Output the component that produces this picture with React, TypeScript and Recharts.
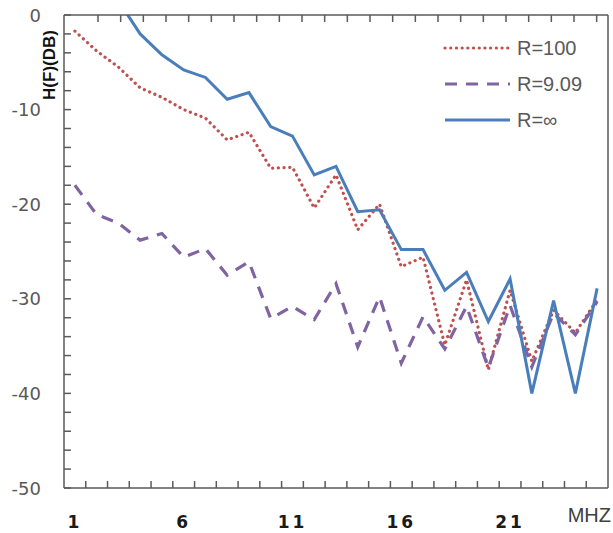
import React from "react";
import { LineChart, Line, XAxis, YAxis, Legend } from "recharts";

// frequency (MHz) categories
const freq = [1, 2, 3, 4, 5, 6, 7, 8, 9, 10, 11, 12, 13, 14, 15, 16, 17, 18, 19, 20, 21, 22, 23, 24, 25];

// H(f) in dB per load
const r100 = [-1.7, -3.8, -5.5, -7.7, -8.7, -10.0, -10.9, -13.2, -12.4, -16.2, -16.1, -20.4, -16.9, -22.7, -20.0, -26.6, -25.6, -34.9, -28.0, -37.5, -29.1, -36.6, -31.2, -33.6, -30.1];
const r909 = [-18.0, -21.1, -22.0, -23.8, -23.1, -25.6, -24.7, -27.5, -26.1, -32.1, -30.8, -32.2, -28.4, -35.1, -29.8, -36.8, -31.9, -35.3, -30.8, -37.3, -30.7, -37.2, -31.5, -33.8, -30.3];
const rInf = [null, null, 1.5, -2.0, -4.2, -5.8, -6.6, -8.9, -8.2, -11.8, -12.8, -16.9, -16.0, -20.8, -20.6, -24.8, -24.8, -29.1, -27.2, -32.4, -27.9, -40.0, -30.2, -40.0, -28.9];

const xLabels = [1, 6, 11, 16, 21];
const yTicks = [0, -2, -4, -6, -8, -10, -12, -14, -16, -18, -20, -22, -24, -26, -28, -30, -32, -34, -36, -38, -40, -42, -44, -46, -48, -50];

const data = freq.map((f, i) => ({ f, r100: r100[i], r909: r909[i], rInf: rInf[i] }));

// tick marks sit on the category boundaries
const bounds = freq.map((f) => f - 0.5).concat(freq[freq.length - 1] + 0.5);
const xDomain = [bounds[0], bounds[bounds.length - 1]];

const series = [
  { key: "r100", name: "R=100", color: "#C0504D", width: 3.2, dash: "0.1 5.6", cap: "round" },
  { key: "r909", name: "R=9.09", color: "#8064A2", width: 3.2, dash: "12 9", cap: "butt" },
  { key: "rInf", name: "R=\u221E", color: "#4A7EBB", width: 3, dash: undefined, cap: "butt" },
];

const AXIS = "#5a5a5a";
const TICK_LEN = 7;

const BottomTick = (props: any) => {
  const { x, y, payload } = props;
  const v = payload.value;
  if (Number.isInteger(v)) {
    return (
      <text x={x} y={y + 40} textAnchor="middle" fontFamily="DejaVu Sans" fontWeight="bold" fontSize={17} letterSpacing={3} fill="#1a1a1a">
        {v}
      </text>
    );
  }
  return <line x1={x} x2={x} y1={y} y2={y - TICK_LEN} stroke={AXIS} strokeWidth={1.5} />;
};

const TopTick = (props: any) => {
  const { x, y } = props;
  return <line x1={x} x2={x} y1={y} y2={y + TICK_LEN} stroke={AXIS} strokeWidth={1.5} />;
};

const LeftTick = (props: any) => {
  const { x, y, payload } = props;
  const v = payload.value;
  return (
    <g>
      <line x1={x} x2={x + TICK_LEN} y1={y} y2={y} stroke={AXIS} strokeWidth={1.5} />
      {v % 10 === 0 && (
        <text x={x - 23} y={y} textAnchor="end" dominantBaseline="central" fontFamily="DejaVu Sans" fontSize={18} fill="#595959">
          {v}
        </text>
      )}
    </g>
  );
};

const RightTick = (props: any) => {
  const { x, y } = props;
  return <line x1={x} x2={x - TICK_LEN} y1={y} y2={y} stroke={AXIS} strokeWidth={1.5} />;
};

const YTitle = (props: any) => {
  const { viewBox } = props;
  const cx = viewBox.x + viewBox.width - 15;
  const cy = viewBox.y + 50;
  return (
    <text x={cx} y={cy} transform={`rotate(-90 ${cx} ${cy})`} textAnchor="middle" dominantBaseline="central" fontFamily="Liberation Sans" fontWeight="bold" fontSize={17} fill="#111">
      H(F)(DB)
    </text>
  );
};

const UnitLabel = (props: any) => {
  const { viewBox } = props;
  return (
    <text x={viewBox.x + viewBox.width + 3} y={viewBox.y + 34} textAnchor="end" fontFamily="Liberation Sans" fontSize={20} fill="#404040">
      MHZ
    </text>
  );
};

const LegendBox = () => (
  <div style={{ fontFamily: "Liberation Sans", fontSize: 20, color: "#595959" }}>
    {series.map((s) => (
      <div key={s.key} style={{ display: "flex", alignItems: "center", height: 36 }}>
        <svg width={70} height={10} style={{ marginRight: 4 }}>
          <line x1={2} x2={67} y1={5} y2={5} stroke={s.color} strokeWidth={s.width} strokeDasharray={s.dash} strokeLinecap={s.cap as any} />
        </svg>
        <span>{s.name}</span>
      </div>
    ))}
  </div>
);

export default function App() {
  return (
    <div style={{ position: "absolute", left: 0, top: 0, background: "#fff" }}>
      <LineChart width={613} height={533} data={data} margin={{ top: 0, right: 0, bottom: 0, left: 0 }}>
        <XAxis
          dataKey="f"
          type="number"
          domain={xDomain}
          ticks={[...bounds.slice(1, -1), ...xLabels]}
          interval={0}
          height={45}
          tickSize={0}
          tickMargin={0}
          tickLine={false}
          axisLine={{ stroke: AXIS, strokeWidth: 1.5 }}
          tick={<BottomTick />}
          label={<UnitLabel />}
        />
        <XAxis
          xAxisId="top"
          orientation="top"
          type="number"
          domain={xDomain}
          ticks={bounds.slice(1, -1)}
          interval={0}
          height={15}
          tickSize={0}
          tickMargin={0}
          tickLine={false}
          axisLine={{ stroke: AXIS, strokeWidth: 1.5 }}
          tick={<TopTick />}
        />
        <YAxis
          type="number"
          domain={[-50, 0]}
          allowDataOverflow
          ticks={yTicks}
          interval={0}
          width={64}
          tickSize={0}
          tickMargin={0}
          tickLine={false}
          axisLine={{ stroke: AXIS, strokeWidth: 1.5 }}
          tick={<LeftTick />}
          label={<YTitle />}
        />
        <YAxis
          yAxisId="right"
          orientation="right"
          type="number"
          domain={[-50, 0]}
          ticks={yTicks.slice(1, -1)}
          interval={0}
          width={5}
          tickSize={0}
          tickMargin={0}
          tickLine={false}
          axisLine={{ stroke: AXIS, strokeWidth: 1.5 }}
          tick={<RightTick />}
        />
        <Legend
          layout="vertical"
          align="center"
          verticalAlign="middle"
          content={<LegendBox />}
          wrapperStyle={{ left: 443, top: 30, width: 160, height: 110 }}
        />
        {series.map((s) => (
          <Line
            key={s.key}
            type="linear"
            dataKey={s.key}
            name={s.name}
            stroke={s.color}
            strokeWidth={s.width}
            strokeDasharray={s.dash}
            strokeLinecap={s.cap as any}
            dot={false}
            activeDot={false}
            isAnimationActive={false}
          />
        ))}
      </LineChart>
    </div>
  );
}
